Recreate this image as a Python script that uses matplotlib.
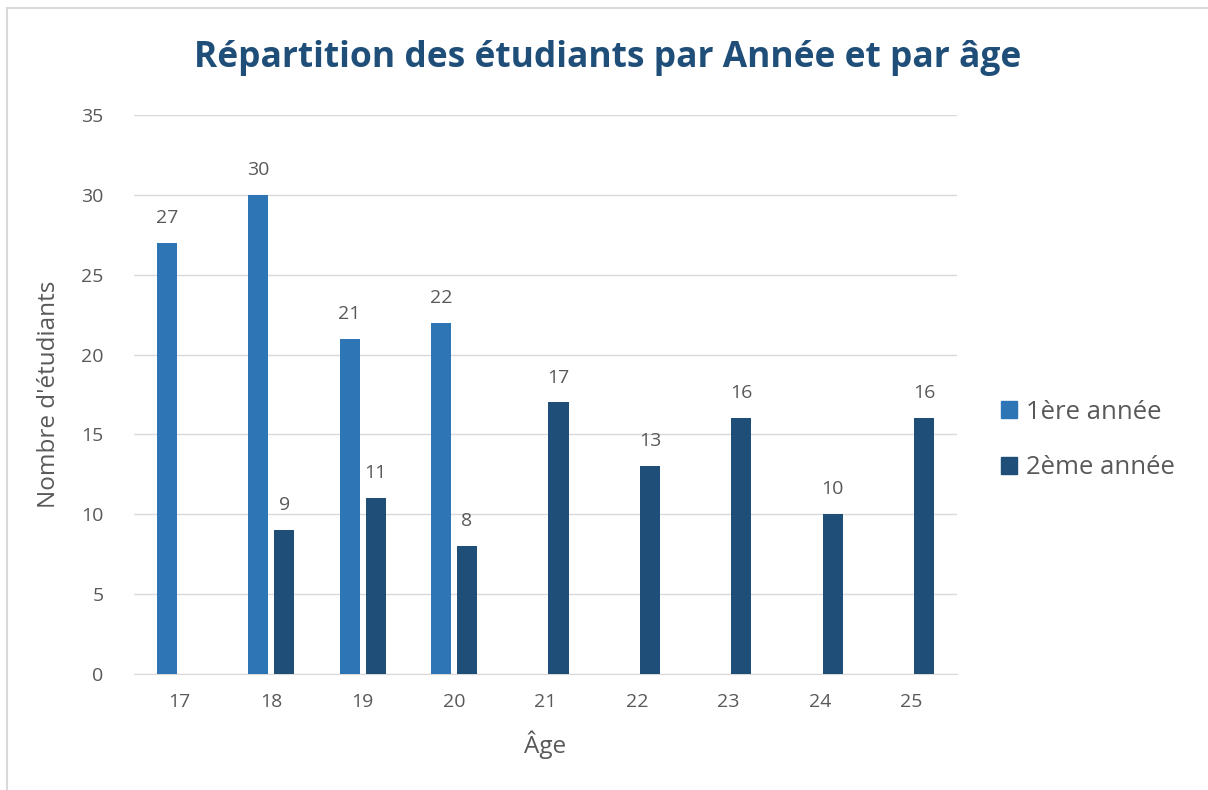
import numpy as np
import matplotlib.pyplot as plt
from matplotlib.patches import Rectangle, Patch

ages = [17, 18, 19, 20, 21, 22, 23, 24, 25]
annee1 = [27, 30, 21, 22, None, None, None, None, None]
annee2 = [None, 9, 11, 8, 17, 13, 16, 10, 16]

c1 = '#2E75B6'
c2 = '#1F4E79'
grey = '#595959'

plt.rcParams['font.family'] = ['Open Sans', 'DejaVu Sans']

fig = plt.figure(figsize=(12.08, 7.90), dpi=100)
W, H = 1208, 790
ax = fig.add_axes([134 / W, 1 - 674 / H, (957 - 134) / W, (674 - 115) / H])

# chart border (only top and left visible)
fig.patches.append(Rectangle((7 / W, -0.1), 1.2, 1 - 8 / H + 0.1, transform=fig.transFigure,
                             fill=False, edgecolor='#D9D9D9', lw=1.5))

w = 0.22
off = 0.142
for i, a in enumerate(ages):
    v1, v2 = annee1[i], annee2[i]
    if v1 is not None:
        ax.bar(a - off, v1, w, color=c1, zorder=3)
        ax.text(a - off, v1 + 1, str(v1), ha='center', va='bottom', fontsize=14, color=grey)
    if v2 is not None:
        ax.bar(a + off, v2, w, color=c2, zorder=3)
        ax.text(a + off, v2 + 1, str(v2), ha='center', va='bottom', fontsize=14, color=grey)

ax.set_xlim(16.5, 25.5)
ax.set_ylim(0, 35)
ax.set_yticks(range(0, 36, 5))
ax.set_xticks(ages)
ax.grid(axis='y', color='#D9D9D9', lw=1, zorder=0)
for s in ['top', 'right', 'left']:
    ax.spines[s].set_visible(False)
ax.spines['bottom'].set_color('#D9D9D9')
ax.tick_params(length=0, labelsize=14, labelcolor=grey, pad=14)
ax.tick_params(axis='y', pad=22)

ax.set_xlabel('Âge', fontsize=17.5, color=grey, labelpad=14)
ax.set_ylabel("Nombre d'étudiants", fontsize=17.5, color=grey, labelpad=14)

fig.text(608 / W, 1 - 58 / H, 'Répartition des étudiants par Année et par âge', ha='center', va='center',
         fontsize=25.5, fontweight='bold', color=c2)

handles = [Patch(color=c1, label='1ère année'), Patch(color=c2, label='2ème année')]
fig.legend(handles=handles, loc='center left', bbox_to_anchor=(978 / W, 1 - 440 / H), frameon=False,
           fontsize=18.5, labelcolor=grey, handlelength=0.6, handleheight=0.6, handletextpad=0.35,
           labelspacing=1.2)

fig.savefig('out.png', dpi=100, facecolor='white')
